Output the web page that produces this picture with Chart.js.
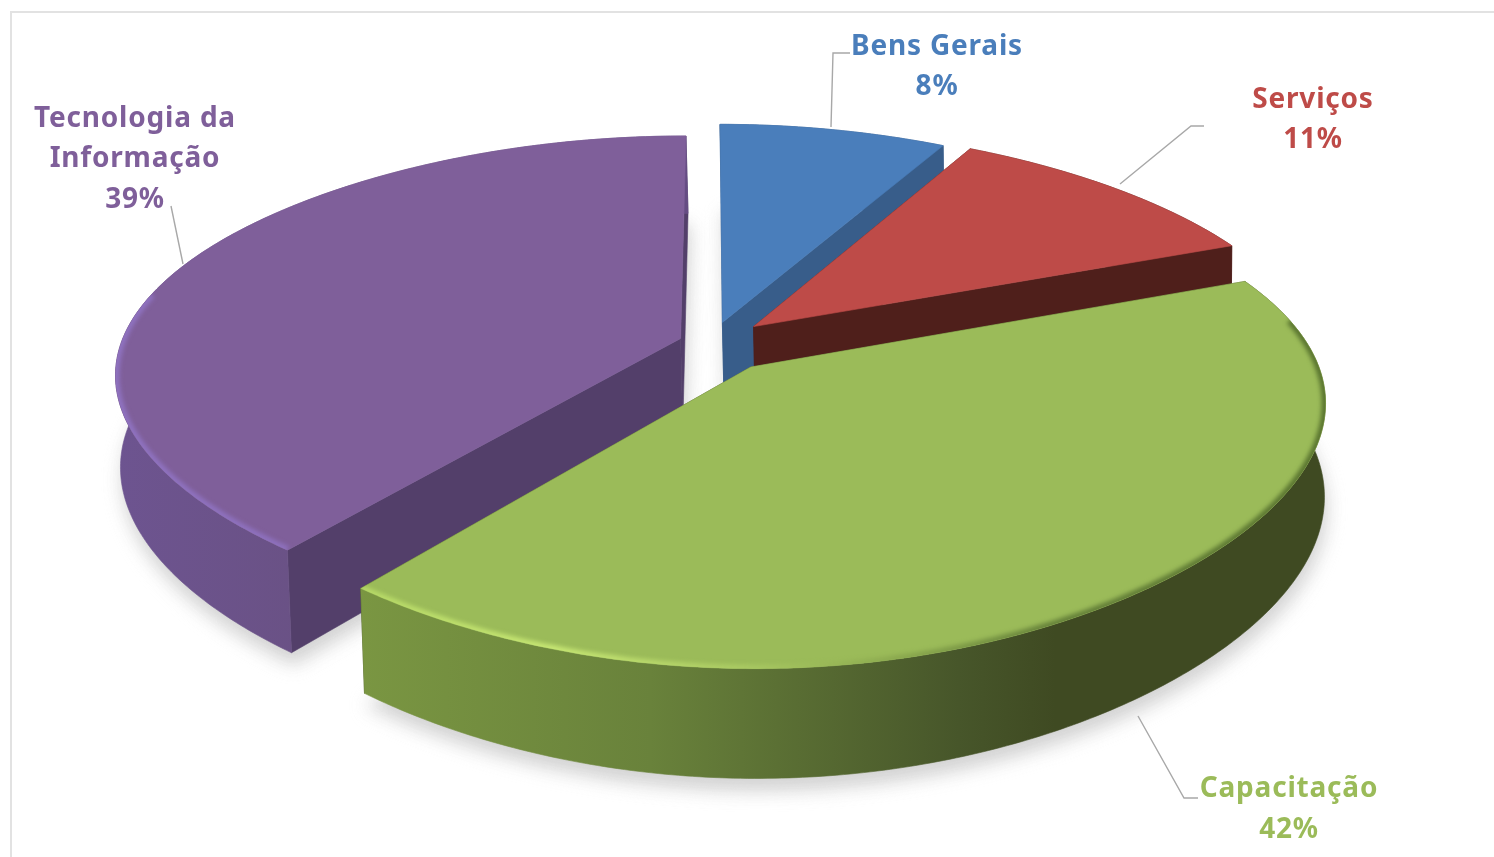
<!DOCTYPE html>
<html lang="pt">
<head>
<meta charset="utf-8">
<title>Distribuição por categoria</title>
<script src="https://cdn.jsdelivr.net/npm/chart.js@4"></script>
<style>
  html, body { margin: 0; padding: 0; background: #fff; }
  #wrap { position: relative; width: 1494px; height: 857px; overflow: hidden; }
  #frame { position: absolute; left: 10px; top: 11px; right: -4px; bottom: -4px;
           border-top: 2px solid #e2e2e2; border-left: 2px solid #e2e2e2; }
  canvas { position: absolute; left: 0; top: 0; }
</style>
</head>
<body>
<div id="wrap"><div id="frame"></div><canvas id="pie" width="1494" height="857"></canvas></div>
<script>
const categories = ['Bens Gerais', 'Serviços', 'Capacitação', 'Tecnologia da Informação'];
const shares = [8, 11, 42, 39];
const explodePercent = [9, 10.5, 12.2, 5.6];
const topColors = ['#4a7ebb', '#be4b48', '#9bbb59', '#7f5f9a'];
const cutColors = ['#385d8a', '#4f1f1b', '#3f4a22', '#533f6a'];
const wallStops = [
  [[0, '#385d8a'], [1, '#385d8a']],
  [[0, '#4f1f1b'], [1, '#4f1f1b']],
  [[0, '#7a9642'], [0.3, '#69823b'], [0.62, '#47562a'], [0.72, '#3f4a22'], [1, '#3f4a22']],
  [[0, '#6d5490'], [0.5, '#68507f'], [1, '#654c83']]
];
const rimStops = [
  null,
  null,
  [[0, '#b5d866'], [0.2, '#c6e673'], [0.4, '#a9c962'], [0.56, '#8aa84e'], [0.72, '#66823a'], [1, '#5a7530']],
  [[0, '#8f72c0'], [1, '#8a6cb6']]
];
const labelLines = [['Bens Gerais', '8%'], ['Serviços', '11%'], ['Capacitação', '42%'], ['Tecnologia da', 'Informação', '39%']];
const labelAnchors = [[937, 47], [1313, 100], [1289, 789.5], [135, 119]];
const labelLineGap = 40.5;
const leaders = [
  [[850, 53], [833, 53], [831, 127]],
  [[1204, 126], [1191, 126], [1120, 184]],
  [[1138, 716], [1184, 798], [1198, 798]],
  [[171, 206], [183, 264]]
];

// Camera used to lay the pie plane into the page
const camera = {
  stretchX: 1.865, stretchY: 0.798, recede: 0.175,
  recedeX: 0.16, recedeXBend: 0.06,
  thickness: 90, baseShrink: 0.995, baseShift: 2
};
const drawOrder = [0, 1, 3, 2];

class Pie3DController extends Chart.PieController {
  static id = 'pie3d';
  static defaults = Chart.PieController.defaults;
  static overrides = Chart.PieController.overrides;

  project(arc, angle, radial, depth, explode) {
    const mid = (arc.startAngle + arc.endAngle) / 2;
    const wx = Math.cos(mid) * explode + Math.cos(angle) * radial;
    const wy = -Math.sin(mid) * explode - Math.sin(angle) * radial;
    const w = 1 + camera.recede * wy;
    const wh = 1 + camera.recedeX * wy + camera.recedeXBend * wy * wy;
    const s = depth ? camera.baseShrink : 1;
    const R = arc.outerRadius;
    return {
      x: arc.x + s * R * camera.stretchX * wx / wh + (depth ? camera.baseShift : 0),
      y: arc.y - s * R * camera.stretchY * wy / w + (depth ? camera.thickness / w : 0)
    };
  }

  outline(arc, depth, explode) {
    const pts = [];
    const n = Math.max(8, Math.ceil((arc.endAngle - arc.startAngle) * 90));
    for (let i = 0; i <= n; i++) {
      const a = arc.startAngle + (arc.endAngle - arc.startAngle) * i / n;
      pts.push(this.project(arc, a, 1, depth, explode));
    }
    return pts;
  }

  fillPoly(ctx, pts, style) {
    ctx.beginPath();
    pts.forEach((p, i) => (i ? ctx.lineTo(p.x, p.y) : ctx.moveTo(p.x, p.y)));
    ctx.closePath();
    ctx.fillStyle = style;
    ctx.fill();
    ctx.strokeStyle = style;
    ctx.lineWidth = 0.6;
    ctx.stroke();
  }

  // Soft bevel that runs just inside the near part of the rim
  drawRim(ctx, s, stops, xMin, xMax) {
    const grad = ctx.createLinearGradient(xMin, 0, xMax, 0);
    stops.forEach(st => grad.addColorStop(st[0], st[1]));
    const { arc, explode } = s;
    const n = 160;
    ctx.save();
    ctx.beginPath();
    [s.tipTop, ...s.top].forEach((p, i) => (i ? ctx.lineTo(p.x, p.y) : ctx.moveTo(p.x, p.y)));
    ctx.closePath();
    ctx.clip();
    ctx.filter = 'blur(2px)';
    ctx.strokeStyle = grad;
    ctx.lineWidth = 8;
    ctx.beginPath();
    let pen = false;
    for (let i = 0; i <= n; i++) {
      const a = arc.startAngle + (arc.endAngle - arc.startAngle) * i / n;
      if (-Math.sin(a) > 0.2) { pen = false; continue; }
      const p = this.project(arc, a, 1, false, explode);
      pen ? ctx.lineTo(p.x, p.y) : ctx.moveTo(p.x, p.y);
      pen = true;
    }
    ctx.stroke();
    ctx.restore();
  }

  draw() {
    const ctx = this.chart.ctx;
    const arcs = this.getMeta().data;
    const slices = arcs.map((el, i) => {
      const arc = el.getProps(['x', 'y', 'startAngle', 'endAngle', 'outerRadius'], true);
      const explode = explodePercent[i] / 100;
      const tipTop = this.project(arc, arc.startAngle, 0, false, explode);
      const tipBase = this.project(arc, arc.startAngle, 0, true, explode);
      return { i, arc, explode, tipTop, tipBase,
               top: this.outline(arc, false, explode), base: this.outline(arc, true, explode) };
    });

    // Soft ground shadow
    ctx.save();
    ctx.filter = 'blur(9px)';
    slices.forEach(s => {
      const pts = [s.tipBase, ...s.base].map(p => ({ x: p.x + 2, y: p.y + 12 }));
      this.fillPoly(ctx, pts, '#d2d2d2');
    });
    ctx.restore();

    drawOrder.forEach(idx => {
      const s = slices[idx];
      const cut = cutColors[idx];
      const n = s.top.length - 1;
      // Cut faces
      this.fillPoly(ctx, [s.tipTop, s.top[0], s.base[0], s.tipBase], cut);
      this.fillPoly(ctx, [s.tipTop, s.top[n], s.base[n], s.tipBase], cut);
      // Outer wall
      const xs = s.top.concat(s.base).map(p => p.x);
      const xMin = Math.min(...xs), xMax = Math.max(...xs);
      const grad = ctx.createLinearGradient(xMin, 0, xMax, 0);
      wallStops[idx].forEach(st => grad.addColorStop(st[0], st[1]));
      this.fillPoly(ctx, s.top.concat(s.base.slice().reverse()), grad);
      // Top face
      this.fillPoly(ctx, [s.tipTop, ...s.top], topColors[idx]);
      if (rimStops[idx]) this.drawRim(ctx, s, rimStops[idx], xMin, xMax);
    });
  }
}
Chart.register(Pie3DController);

// Leader lines and the coloured category labels
const calloutPlugin = {
  id: 'callouts',
  afterDatasetsDraw(chart) {
    const ctx = chart.ctx;
    ctx.save();
    ctx.strokeStyle = '#a8a8a8';
    ctx.lineWidth = 1.4;
    leaders.forEach(path => {
      ctx.beginPath();
      path.forEach((p, i) => (i ? ctx.lineTo(p[0], p[1]) : ctx.moveTo(p[0], p[1])));
      ctx.stroke();
    });
    ctx.font = 'bold 28px "Noto Sans"';
    ctx.letterSpacing = '0.8px';
    ctx.textAlign = 'center';
    ctx.textBaseline = 'middle';
    labelLines.forEach((lines, i) => {
      ctx.fillStyle = topColors[i];
      lines.forEach((t, k) => ctx.fillText(t, labelAnchors[i][0], labelAnchors[i][1] + k * labelLineGap));
    });
    ctx.restore();
  }
};

new Chart(document.getElementById('pie'), {
  type: 'pie3d',
  data: {
    labels: categories,
    datasets: [{ data: shares, backgroundColor: topColors, borderWidth: 0, radius: 300 }]
  },
  options: {
    responsive: false,
    animation: false,
    layout: { padding: { right: 74, bottom: 171 } },
    plugins: { legend: { display: false }, tooltip: { enabled: false } }
  },
  plugins: [calloutPlugin]
});
</script>
</body>
</html>
